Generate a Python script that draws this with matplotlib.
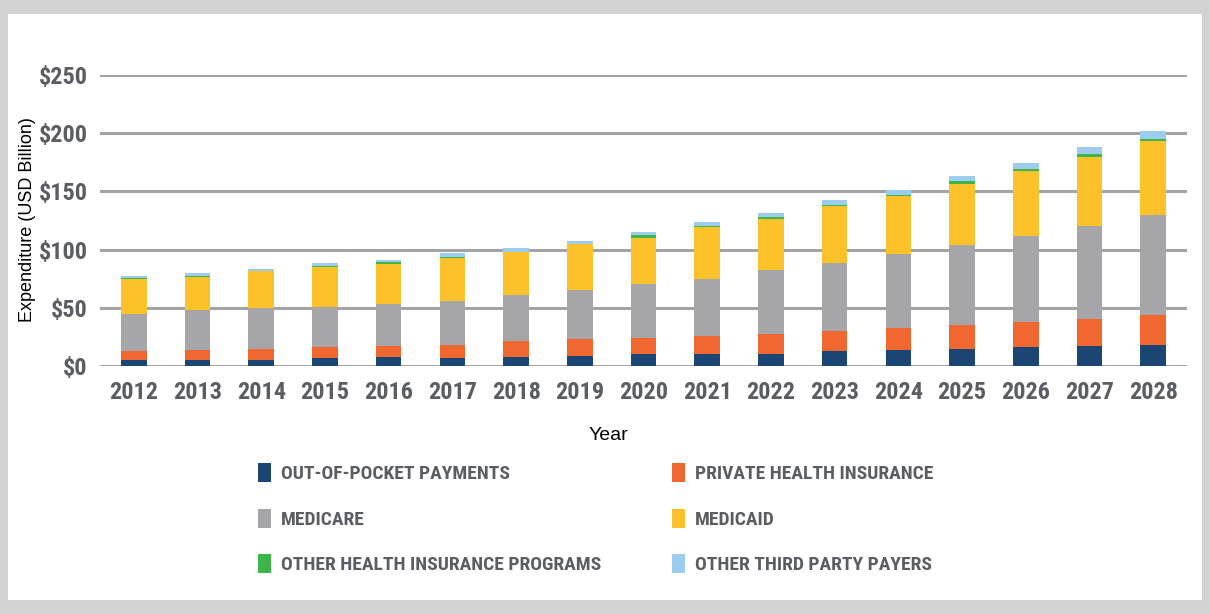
import matplotlib
matplotlib.use("Agg")
import matplotlib.pyplot as plt
from matplotlib.patches import Rectangle
from matplotlib import font_manager
from matplotlib.font_manager import FontProperties
import numpy as np

years = [str(y) for y in range(2012, 2029)]
out_of_pocket = [5.4, 5.4, 5.4, 6.8, 7.4, 6.8, 8.0, 8.6, 10.0, 10.0, 10.0, 12.6, 13.4, 14.8, 16.0, 16.8, 18.0]
private_ins   = [7.2, 8.3, 9.4, 9.5, 9.4, 11.5, 13.1, 14.2, 14.0, 16.0, 17.4, 17.4, 19.4, 20.6, 21.7, 23.4, 25.4]
medicare      = [32.2, 34.8, 34.9, 34.8, 36.3, 37.6, 40.0, 42.3, 46.5, 49.0, 55.1, 58.5, 63.7, 68.2, 73.9, 80.5, 86.7]
medicaid      = [30.0, 28.3, 31.6, 33.7, 34.2, 36.9, 36.5, 39.4, 39.7, 44.3, 44.2, 48.8, 49.3, 52.8, 56.2, 58.8, 63.4]
other_progs   = [0.5, 0.5, 0.5, 1.1, 2.0, 0.6, 0.6, 0.6, 2.0, 1.1, 1.4, 1.1, 1.5, 2.3, 1.7, 2.3, 1.4]
other_third   = [1.8, 2.9, 1.8, 2.3, 2.0, 3.3, 2.8, 2.5, 2.8, 2.9, 3.2, 4.0, 4.2, 4.3, 5.2, 6.0, 6.6]

series_names = ["OUT-OF-POCKET PAYMENTS", "PRIVATE HEALTH INSURANCE", "MEDICARE",
                "MEDICAID", "OTHER HEALTH INSURANCE PROGRAMS", "OTHER THIRD PARTY PAYERS"]
series = [out_of_pocket, private_ins, medicare, medicaid, other_progs, other_third]
colors = ["#1b4674", "#f0682f", "#a6a6a8", "#fdc22a", "#3db549", "#9dcdee"]

ytick_vals = [0, 50, 100, 150, 200, 250]
ytick_labels = ["$0", "$50", "$100", "$150", "$200", "$250"]

# pick a condensed font if one is installed
cands = []
for f in font_manager.fontManager.ttflist:
    nm = f.name.lower()
    st = str(f.stretch).lower()
    fn = f.fname.lower()
    is_cond = ("condensed" in nm or "narrow" in nm or "condensed" in st or "narrow" in st
               or "condensed" in fn or "narrow" in fn)
    if is_cond and "italic" not in fn and f.style == "normal":
        w = f.weight if isinstance(f.weight, int) else 400
        score = -abs(w - 700)
        cands.append((score, f.fname))
if cands:
    cands.sort(reverse=True)
    cond_fp = lambda size: FontProperties(fname=cands[0][1], size=size)
else:
    cond_fp = lambda size: FontProperties(family="DejaVu Sans", weight="bold", size=size * 0.8)

W, H = 1210, 614
fig = plt.figure(figsize=(W / 100, H / 100), dpi=100)
fig.patch.set_facecolor("#d2d2d2")
fig.patches.append(Rectangle((8 / W, 14 / H), (W - 16) / W, (H - 28) / H,
                             transform=fig.transFigure, facecolor="white",
                             edgecolor="none", zorder=-10))

ax = fig.add_axes([100 / W, 1 - 366 / H, (1187 - 100) / W, (366 - 75) / H])
ax.set_facecolor("none")
x = np.arange(len(years))
bottom = np.zeros(len(years))
handles = []
for name, vals, c in zip(series_names, series, colors):
    b = ax.bar(x, vals, width=0.4, bottom=bottom, color=c, label=name, zorder=3)
    handles.append(b)
    bottom += np.array(vals)

ax.set_xlim(-0.53, 16.53)
ax.set_ylim(0, 250)
ax.set_yticks(ytick_vals)
ax.set_yticklabels(ytick_labels)
ax.set_xticks(x)
ax.set_xticklabels(years)
ax.grid(axis="y", color="#a4a4a4", linewidth=2.2, zorder=1)
ax.set_axisbelow(True)
for s in ax.spines.values():
    s.set_visible(False)
ax.tick_params(length=0)
for lab in ax.get_yticklabels() + ax.get_xticklabels():
    lab.set_fontproperties(cond_fp(17.5))
    lab.set_color("#5a5d62")
ax.tick_params(axis="y", pad=9)
ax.tick_params(axis="x", pad=11)

fig.text(28 / W, 1 - 220 / H, "Expenditure (USD Billion)", rotation=90, ha="center", va="center",
         fontsize=13, family=["Liberation Sans", "DejaVu Sans"], color="black")
fig.text(608 / W, 1 - 436 / H, "Year", ha="center", va="center",
         fontsize=14, family=["Liberation Sans", "DejaVu Sans"], color="black")

fs = 14
fpx = fs * 100 / 72
columns = [([0, 2, 4], 258), ([1, 3, 5], 672)]
for idx, x0 in columns:
    leg = fig.legend(handles=[handles[i] for i in idx], labels=[series_names[i] for i in idx],
                     ncol=1, loc="upper left",
                     bbox_to_anchor=(x0 / W, 1 - 463 / H), frameon=False,
                     prop=cond_fp(fs), borderpad=0, borderaxespad=0,
                     handlelength=13 / fpx, handleheight=22 / fpx, handletextpad=10 / fpx,
                     labelspacing=25.5 / fpx)
    for t in leg.get_texts():
        t.set_color("#5a5d62")

fig.savefig("out.png", dpi=100, facecolor=fig.get_facecolor())
